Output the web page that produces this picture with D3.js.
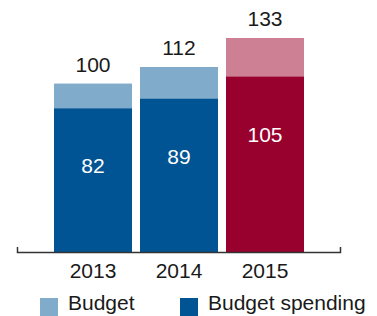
<!DOCTYPE html>
<html>
<head>
<meta charset="utf-8">
<script src="https://cdn.jsdelivr.net/npm/d3@7"></script>
<style>
  body { margin: 0; background: #fff; }
  svg text { font-family: "Liberation Sans", Arial, sans-serif; }
</style>
</head>
<body>
<svg width="377" height="316"></svg>
<script>
// data
var years = ["2013", "2014", "2015"];
var budget = [100, 112, 133];
var spending = [82, 89, 105];
var legendLabels = ["Budget", "Budget spending"];

var svg = d3.select("svg");

// colours: blue for past years, red for the current one
var lightColors = ["#80abcb", "#80abcb", "#cd7f94"];
var darkColors = ["#005493", "#005493", "#98002e"];

var baseline = 252;

var x = d3.scaleBand()
  .domain(years)
  .range([54, 304])
  .paddingInner(0.093)
  .paddingOuter(0);

var y = d3.scaleLinear()
  .domain([-22, 133])
  .range([baseline, 38]);

var chart = svg.append("g");

// budget bars (back)
chart.selectAll(".budget")
  .data(years)
  .enter()
  .append("rect")
  .attr("class", "budget")
  .attr("x", function(d) { return x(d); })
  .attr("width", x.bandwidth())
  .attr("y", function(d, i) { return y(budget[i]); })
  .attr("height", function(d, i) { return baseline - y(budget[i]); })
  .attr("fill", function(d, i) { return lightColors[i]; });

// spending bars (front)
chart.selectAll(".spending")
  .data(years)
  .enter()
  .append("rect")
  .attr("class", "spending")
  .attr("x", function(d) { return x(d); })
  .attr("width", x.bandwidth())
  .attr("y", function(d, i) { return y(spending[i]); })
  .attr("height", function(d, i) { return baseline - y(spending[i]); })
  .attr("fill", function(d, i) { return darkColors[i]; });

// value labels
chart.selectAll(".budget-label")
  .data(years)
  .enter()
  .append("text")
  .attr("x", function(d) { return x(d) + x.bandwidth() / 2; })
  .attr("y", function(d, i) { return y(budget[i]) - 12; })
  .attr("text-anchor", "middle")
  .attr("font-size", "21px")
  .attr("fill", "#1a1a1a")
  .text(function(d, i) { return budget[i]; });

chart.selectAll(".spending-label")
  .data(years)
  .enter()
  .append("text")
  .attr("x", function(d) { return x(d) + x.bandwidth() / 2; })
  .attr("y", function(d, i) { return y(spending[i]) + 65; })
  .attr("text-anchor", "middle")
  .attr("font-size", "21px")
  .attr("fill", "#fff")
  .text(function(d, i) { return spending[i]; });

// x axis line with end ticks
svg.append("path")
  .attr("d", "M17.5," + (baseline - 5) + "V" + (baseline + 0.5) + "H340.5V" + (baseline - 5))
  .attr("fill", "none")
  .attr("stroke", "#333")
  .attr("stroke-width", 1.5);

// year labels
svg.selectAll(".year")
  .data(years)
  .enter()
  .append("text")
  .attr("x", function(d) { return x(d) + x.bandwidth() / 2; })
  .attr("y", 278)
  .attr("text-anchor", "middle")
  .attr("font-size", "21px")
  .attr("fill", "#1a1a1a")
  .text(function(d) { return d; });

// legend
var legendX = [40, 180];
var legendColors = ["#80abcb", "#005493"];
var legend = svg.selectAll(".legend")
  .data(legendLabels)
  .enter()
  .append("g")
  .attr("transform", function(d, i) { return "translate(" + legendX[i] + ",298)"; });

legend.append("rect")
  .attr("width", 18)
  .attr("height", 18)
  .attr("fill", function(d, i) { return legendColors[i]; });

legend.append("text")
  .attr("x", 28)
  .attr("y", 12)
  .attr("font-size", "21px")
  .attr("fill", "#1a1a1a")
  .text(function(d) { return d; });
</script>
</body>
</html>
